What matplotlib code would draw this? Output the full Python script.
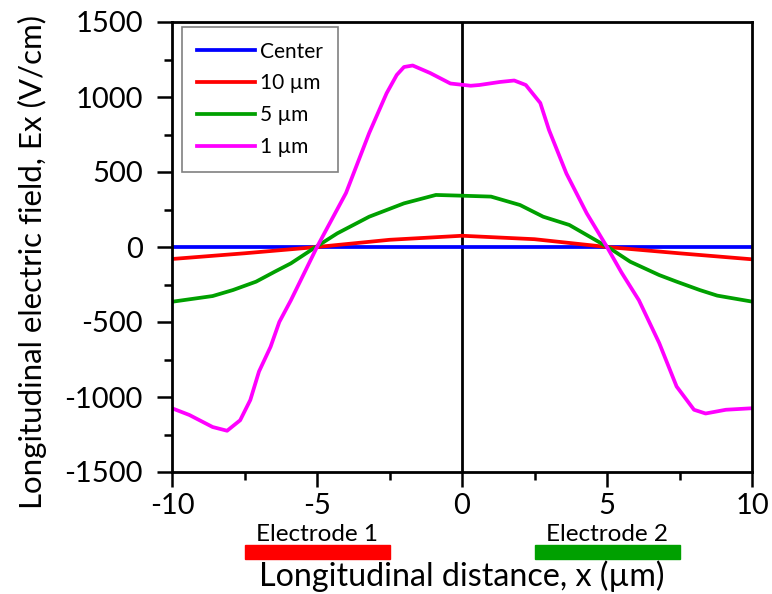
import matplotlib
matplotlib.use('Agg')
import matplotlib.pyplot as plt
import matplotlib.transforms as mtransforms
from matplotlib.patches import Rectangle
from matplotlib.ticker import MultipleLocator

plt.rcParams['font.family'] = ['Lato', 'DejaVu Sans']
plt.rcParams['axes.unicode_minus'] = False

# data
x_center = [-10, 10]
e_center = [0, 0]

x_10um = [-10, -7.5, -5, -2.5, 0, 2.5, 5, 7.5, 10]
e_10um = [-80, -42, 0, 48, 75, 52, 0, -42, -82]

x_5um = [-10, -8.6, -7.9, -7.1, -6.45, -5.9, -5.2, -4.3, -3.2, -2.0, -0.9, 0.0,
         1.0, 2.0, 2.8, 3.7, 4.5, 5.1, 5.8, 6.8, 7.4, 8.2, 8.8, 10]
e_5um = [-365, -327, -287, -231, -164, -109, -20, 91, 202, 291, 347, 342,
         336, 280, 202, 147, 58, -9, -98, -187, -231, -287, -324, -364]

x_1um = [-10, -9.4, -8.6, -8.1, -7.65, -7.3, -7.0, -6.6, -6.3, -5.9, -5.0, -4.0,
         -3.2, -2.6, -2.25, -2.0, -1.7, -1.1, -0.4, 0.3, 0.6, 1.3, 1.8, 2.2, 2.7, 3.0,
         3.6, 4.3, 5.0, 5.5, 6.1, 6.8, 7.4, 8.0, 8.4, 9.1, 10]
e_1um = [-1075, -1120, -1200, -1225, -1155, -1020, -830, -665, -500, -355, 0, 360,
         760, 1025, 1147, 1200, 1210, 1160, 1090, 1075, 1080, 1100, 1110, 1080, 960, 780,
         490, 225, 0, -170, -355, -640, -930, -1085, -1110, -1085, -1075]

electrodes = ['Electrode 1', 'Electrode 2']
electrode_start = [-7.5, 2.5]
electrode_end = [-2.5, 7.5]
electrode_colors = ['#ff0000', '#00a000']

fig = plt.figure(figsize=(7.72, 5.94), dpi=100)
ax = fig.add_axes([172/772, 1 - 472/594, 580/772, 450/594])

lw = 2.7
ax.axvline(0, color='black', lw=2, zorder=1)
ax.plot(x_center, e_center, color='#0000ff', lw=lw, label='Center')
ax.plot(x_10um, e_10um, color='#ff0000', lw=lw, label='10 µm')
ax.plot(x_5um, e_5um, color='#00a000', lw=lw, label='5 µm')
ax.plot(x_1um, e_1um, color='#ff00ff', lw=lw, label='1 µm')

ax.set_xlim(-10, 10)
ax.set_ylim(-1500, 1500)
ax.xaxis.set_major_locator(MultipleLocator(5))
ax.xaxis.set_minor_locator(MultipleLocator(2.5))
ax.yaxis.set_major_locator(MultipleLocator(500))
ax.yaxis.set_minor_locator(MultipleLocator(250))
ax.tick_params(which='major', direction='out', length=11, width=1.8, labelsize=21)
ax.tick_params(which='minor', direction='out', length=6, width=1.8)
ax.tick_params(axis='y', which='major', pad=10)
ax.tick_params(axis='x', which='major', pad=4)
for sp in ax.spines.values():
    sp.set_linewidth(2)

ax.set_ylabel('Longitudinal electric field, Ex (V/cm)', fontsize=22.5)
ax.yaxis.set_label_coords((32 - 172) / 580, (472 - 262) / 450)
ax.yaxis.label.set_va('center')
ax.set_xlabel('Longitudinal distance, x (µm)', fontsize=23.2)
ax.xaxis.set_label_coords(0.5, (472 - 586) / 450)
ax.xaxis.label.set_va('baseline')

leg = ax.legend(loc='upper left', bbox_to_anchor=((182 - 172) / 580, (472 - 27) / 450),
                fontsize=15, frameon=True, fancybox=False, edgecolor='gray', framealpha=1,
                handlelength=2.8, handletextpad=0.25, labelspacing=0.57,
                borderpad=0.7, borderaxespad=0)
leg.get_frame().set_linewidth(1.2)

# electrode bars under the axis
trans = mtransforms.blended_transform_factory(ax.transData, ax.transAxes)
for name, x0, x1, c in zip(electrodes, electrode_start, electrode_end, electrode_colors):
    ax.add_patch(Rectangle((x0, (472 - 559) / 450), x1 - x0, 14 / 450, transform=trans,
                           color=c, clip_on=False))
    ax.text((x0 + x1) / 2, (472 - 541) / 450, name, transform=trans, ha='center',
            va='baseline', fontsize=17.5)

fig.savefig('out.png', dpi=100)
